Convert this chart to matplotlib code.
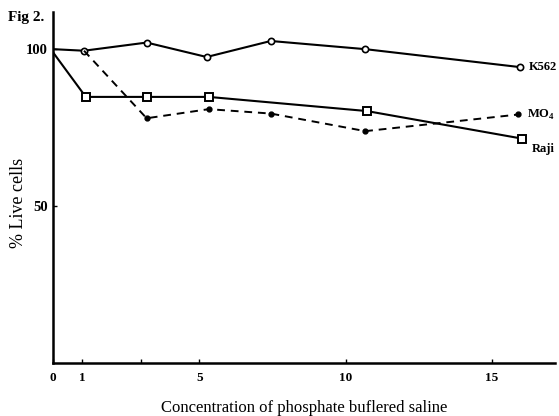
import matplotlib
matplotlib.use("Agg")
import matplotlib.pyplot as plt

# Data (x = concentration, y = % live cells)
k562_x = [0, 1.06, 3.2, 5.25, 7.44, 10.67, 15.94]
k562_y = [100, 99.5, 102.1, 97.5, 102.6, 100.0, 94.3]

raji_x = [0, 1.12, 3.22, 5.32, 10.72, 16.04]
raji_y = [99.0, 84.8, 84.8, 84.8, 80.3, 71.5]

mo4_x = [1.06, 3.2, 5.32, 7.44, 10.67, 15.9]
mo4_y = [99.5, 78.0, 80.9, 79.5, 73.9, 79.2]

x_ticks = [0, 1, 3, 5, 10, 15]
x_tick_labels = ["0", "1", "", "5", "10", "15"]
y_ticks = [50, 100]
y_tick_labels = ["50", "100"]

series_labels = ["K562", r"MO$_\mathregular{4}$", "Raji"]

plt.rcParams["font.family"] = ["Liberation Serif", "DejaVu Serif"]
plt.rcParams["mathtext.fontset"] = "custom"
plt.rcParams["mathtext.rm"] = "Liberation Serif:bold"

fig = plt.figure(figsize=(5.59, 4.16), dpi=100)
ax = fig.add_axes([0.0948, 0.1267, 0.898, 0.845])

ax.plot(k562_x, k562_y, color="black", lw=1.5, marker="o", ms=4.5,
        mfc="white", mec="black", mew=1.2, markevery=slice(1, None))
ax.plot(raji_x, raji_y, color="black", lw=1.5, marker="s", ms=6,
        mfc="white", mec="black", mew=1.4, markevery=slice(1, None))
ax.plot(mo4_x, mo4_y, color="black", lw=1.4, ls=(0, (4, 3)), marker="o",
        ms=3.5, mfc="black", mec="black", markevery=slice(1, None))

ax.set_xlim(0, 17.15)
ax.set_ylim(0, 111.9)

ax.set_xticks(x_ticks)
ax.set_xticklabels(x_tick_labels, fontsize=9.5, fontweight="bold")
ax.set_yticks(y_ticks)
ax.set_yticklabels(y_tick_labels, fontsize=10.5, fontweight="bold")
ax.tick_params(axis="both", direction="in", length=3, width=1)
ax.tick_params(axis="x", pad=6)
ax.tick_params(axis="y", pad=4)

for s in ["top", "right"]:
    ax.spines[s].set_visible(False)
for s in ["left", "bottom"]:
    ax.spines[s].set_linewidth(1.8)

# series labels at line ends
ends = [(k562_x[-1], k562_y[-1]), (mo4_x[-1], mo4_y[-1]), (raji_x[-1], raji_y[-1] - 3.2)]
for (ex, ey), lab in zip(ends, series_labels):
    ax.annotate(lab, xy=(ex, ey), xytext=(6.5, 0), textcoords="offset points",
                va="center", ha="left", fontsize=9, fontweight="bold")

ax.set_xlabel("Concentration of phosphate buflered saline", fontsize=12, labelpad=12)
ax.set_ylabel("% Live cells", fontsize=13)
ax.yaxis.set_label_coords(-0.052, 0.456)

fig.text(0.014, 0.958, "Fig 2.", fontsize=11, fontweight="bold", ha="left", va="center")

fig.savefig("out.png", dpi=100)
